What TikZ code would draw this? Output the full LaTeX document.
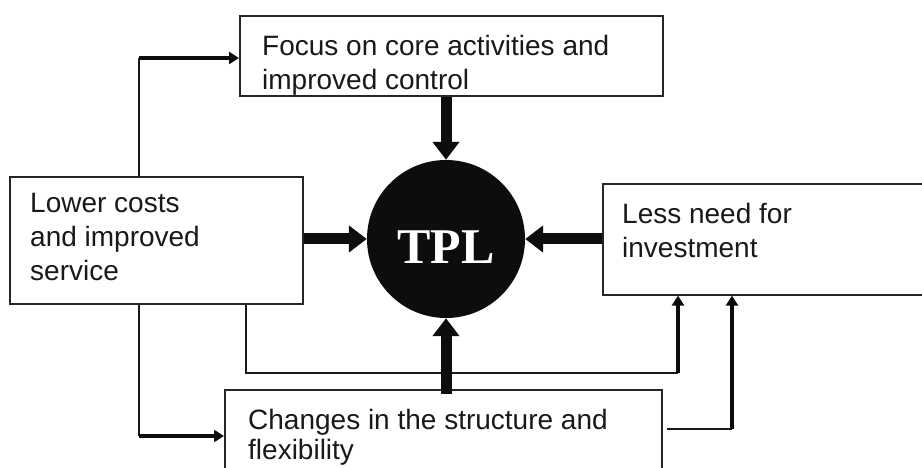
\documentclass[tikz,border=0pt]{standalone}
\usepackage{fontspec}
\setmainfont{Liberation Sans}
\newfontfamily\tplfont{Liberation Serif}
\usetikzlibrary{arrows.meta,calc}
\begin{document}
\begin{tikzpicture}[x=1pt,y=-1pt,
  box/.style={draw=black!85, line width=1.6pt, inner sep=0pt, anchor=north west},
  boxtext/.style={anchor=north west, inner sep=0pt, align=left,
    font=\fontsize{28}{34}\selectfont, text=black!90},
  bigarrow/.style={draw=black!95, line width=11pt, -{Triangle[width=26pt,length=18pt]}},
  thinline/.style={draw=black!90, line width=1.8pt},
  midline/.style={draw=black!95, line width=3.6pt},
  smallhead/.style={-{Triangle[width=12pt,length=10pt]}}
]
\clip (0,0) rectangle (922,468);
\fill[white] (0,0) rectangle (922,468);

% boxes
\node[box, minimum width=423pt, minimum height=80pt]  (focus)   at (239,15)  {};
\node[box, minimum width=293pt, minimum height=127pt] (lower)   at (9,176)   {};
\node[box, minimum width=340pt, minimum height=111pt] (less)    at (602,183) {};
\node[box, minimum width=437pt, minimum height=100pt] (changes) at (224,389) {};

% box texts
\node[boxtext] (focustext)   at (262,35)  {Focus on core activities and\\improved control};
\node[boxtext] (lowertext)   at (30,193)  {Lower costs\\and improved\\service};
\node[boxtext] (lesstext)    at (622,203) {Less need for\\investment};
\node[boxtext, font=\fontsize{28}{30}\selectfont] (changestext) at (248,409)
  {Changes in the structure and\\flexibility};

% central disc
\node[circle, fill=black!95, minimum size=158pt, inner sep=0pt] (tpl) at (446,239) {};
\node[anchor=base, inner sep=0pt, text=white,
      font=\tplfont\bfseries\fontsize{50}{50}\selectfont] (tpltext) at (446,263) {TPL};

% side connectors
\coordinate (k1) at (139,58);
\draw[thinline] (lower.north -| k1) -- (k1);
\draw[midline, smallhead] (k1) -- (focus.west |- k1);

\coordinate (k2) at (139,436);
\draw[thinline] (lower.south -| k2) -- (k2);
\draw[midline, smallhead] (k2) -- (changes.west |- k2);

\coordinate (k3) at (246,373);
\coordinate (k4) at (678,373);
\draw[thinline] (lower.south -| k3) -- (k3) -- (k4);
\draw[midline, smallhead] (k4) -- (less.south -| k4);

\coordinate (k5) at (732,429);
\draw[thinline] ($(changes.east |- k5)+(4,0)$) -- (k5);
\draw[midline, smallhead] (k5) -- (less.south -| k5);

% thick arrows into the disc
\draw[bigarrow] (tpl.north |- focus.south) -- (tpl.north);
\draw[bigarrow] (lower.east |- tpl.west) -- (tpl.west);
\draw[bigarrow] (less.west |- tpl.east) -- (tpl.east);
\draw[bigarrow] ($(tpl.south |- changes.north)+(0,5)$) -- (tpl.south);
\end{tikzpicture}
\end{document}
